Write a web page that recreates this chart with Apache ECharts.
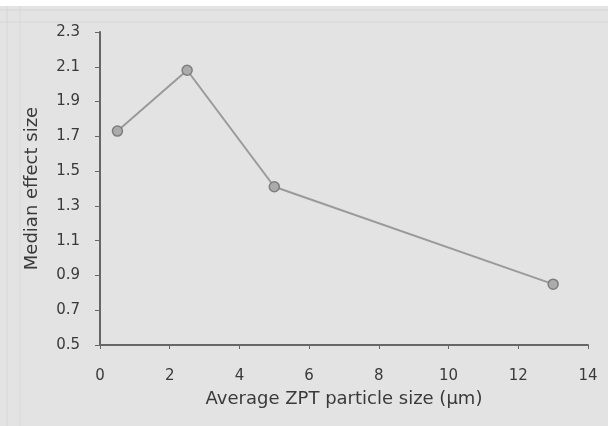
<!DOCTYPE html>
<html>
<head>
<meta charset="utf-8">
<script src="https://cdn.jsdelivr.net/npm/echarts@6/dist/echarts.min.js"></script>
<style>
  html, body { margin: 0; padding: 0; background: #e3e3e3; }
  #main { width: 608px; height: 426px; }
</style>
</head>
<body>
<div id="main"></div>
<script>
  // data
  var particleSize = [0.5, 2.5, 5, 13];
  var effectSize = [1.73, 2.08, 1.41, 0.85];
  var yTicks = ['0.5', '0.7', '0.9', '1.1', '1.3', '1.5', '1.7', '1.9', '2.1', '2.3'];

  var points = particleSize.map(function (x, i) { return [x, effectSize[i]]; });

  var myChart = echarts.init(document.getElementById('main'));

  var font = 'DejaVu Sans, Liberation Sans, sans-serif';
  var axisText = { color: '#3a3a3a', fontSize: 15, fontFamily: font };
  var nameText = { color: '#3a3a3a', fontSize: 18, fontFamily: font };

  var option = {
    backgroundColor: '#e3e3e3',
    animation: false,
    graphic: [
      { type: 'rect', shape: { x: 0, y: 0, width: 608, height: 6 }, style: { fill: '#ffffff' } },
      { type: 'line', shape: { x1: 0, y1: 10, x2: 608, y2: 10 }, style: { stroke: '#d4d4d4', lineWidth: 1 } },
      { type: 'line', shape: { x1: 0, y1: 22, x2: 608, y2: 22 }, style: { stroke: '#d6d6d6', lineWidth: 1 } },
      { type: 'line', shape: { x1: 7, y1: 6, x2: 7, y2: 426 }, style: { stroke: '#d6d6d6', lineWidth: 1 } },
      { type: 'line', shape: { x1: 20, y1: 6, x2: 20, y2: 426 }, style: { stroke: '#d9d9d9', lineWidth: 1 } }
    ],
    grid: { left: 100, right: 20, top: 32, bottom: 81 },
    xAxis: {
      type: 'value',
      min: 0, max: 14, interval: 2,
      name: 'Average ZPT particle size (\u03bcm)',
      nameLocation: 'middle',
      nameGap: 45,
      nameTextStyle: nameText,
      axisLine: { lineStyle: { color: '#666', width: 2 } },
      axisTick: { inside: false, length: 4, lineStyle: { color: '#666' } },
      axisLabel: Object.assign({ margin: 24 }, axisText),
      splitLine: { show: false }
    },
    yAxis: {
      type: 'value',
      min: 0.5, max: 2.3, interval: 0.2,
      name: 'Median effect size',
      nameLocation: 'middle',
      nameGap: 59,
      nameTextStyle: nameText,
      axisLine: { show: true, lineStyle: { color: '#666', width: 2 } },
      axisTick: { show: true, inside: false, length: 5, lineStyle: { color: '#666' } },
      axisLabel: Object.assign({
        margin: 20,
        formatter: function (v) {
          var s = v.toFixed(1);
          return yTicks.indexOf(s) >= 0 ? s : '';
        }
      }, axisText),
      splitLine: { show: false }
    },
    series: [{
      type: 'line',
      data: points,
      symbol: 'circle',
      symbolSize: 10,
      lineStyle: { color: '#9a9a9a', width: 2 },
      itemStyle: { color: '#ababab', borderColor: '#7e7e7e', borderWidth: 1.5 }
    }]
  };

  myChart.setOption(option);
</script>
</body>
</html>
